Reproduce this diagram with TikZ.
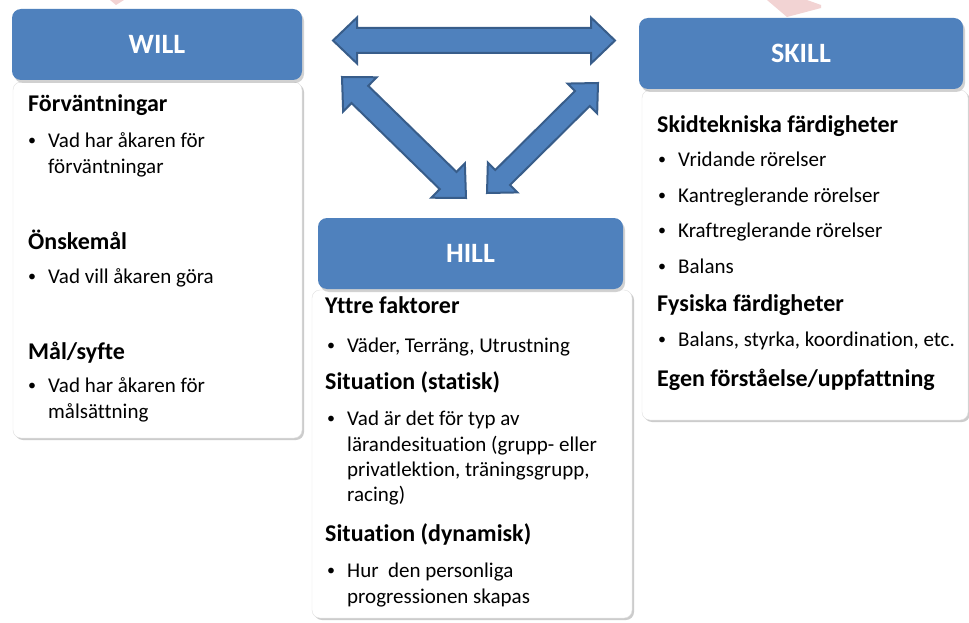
\documentclass[tikz,border=0pt]{standalone}
\usepackage{fontspec}
\setmainfont{Carlito}[RawFeature=-liga]
\usetikzlibrary{calc,shadows}
\definecolor{hblue}{HTML}{4F81BD}
\definecolor{hborder}{HTML}{385D8A}
\definecolor{wmark}{HTML}{F2D3D3}
\tikzset{
 header/.style={fill=hblue, rounded corners=9pt, text=white, font=\bfseries\fontsize{28}{30}\selectfont,
   drop shadow={shadow xshift=2pt, shadow yshift=-3pt, opacity=0.35}, inner sep=0},
 panel/.style={fill=white, draw=black!12, rounded corners=8pt,
   drop shadow={shadow xshift=2pt, shadow yshift=-2pt, opacity=0.4}, inner sep=0},
 hdtext/.style={anchor=base west, inner sep=0, font=\bfseries\fontsize{24}{28}\selectfont},
 bodytext/.style={anchor=base west, inner sep=0, font=\fontsize{21}{25}\selectfont},
 bullettext/.style={anchor=center, inner sep=0, font=\fontsize{16}{17}\selectfont},
 bigarrow/.style={fill=hblue, draw=hborder, line width=2pt, line join=miter},
}
% heading line: name, x, y(center)
\newcommand\hdl[4]{\node[hdtext] (#1) at (#2,{#3+8}) {#4};}
% bullet line: name, x(bullet), y, text
\newcommand\bul[4]{\node[bullettext] (#1-b) at ({#2+3},{#3+2}) {•};\node[bodytext] (#1) at ({#2+19},{#3+7}) {#4};}
% continuation line: name, x(bullet), y, text
\newcommand\cnt[4]{\node[bodytext] (#1) at ({#2+19},{#3+7}) {#4};}
% double block arrow: A, B, shaft half, head half, head length
\newcommand\dblarrow[5]{%
 \coordinate (#1-p) at ($(#1)!#5!(#2)$);
 \coordinate (#1-q) at ($(#2)!#5!(#1)$);
 \draw[bigarrow] (#1) -- ($(#1-p)!#4!90:(#2)$) -- ($(#1-p)!#3!90:(#2)$)
   -- ($(#1-q)!#3!-90:(#1)$) -- ($(#1-q)!#4!-90:(#1)$) -- (#2)
   -- ($(#1-q)!#4!90:(#1)$) -- ($(#1-q)!#3!90:(#1)$)
   -- ($(#1-p)!#3!-90:(#2)$) -- ($(#1-p)!#4!-90:(#2)$) -- cycle;}
\begin{document}
\begin{tikzpicture}[x=1pt,y=-1pt]
\useasboundingbox (0,0) rectangle (969,623);
\fill[white] (0,0) rectangle (969,623);
% faint watermark marks
\fill[wmark] (767,0) -- (807,0) -- (821,5) -- (821,8) -- (787,17) -- cycle;
\fill[wmark] (110,0) -- (124,0) -- (116,5) -- cycle;
% panels
\node[panel, minimum width=289pt, minimum height=356pt] (willbody) at (157.5,260) {};
\node[panel, minimum width=326pt, minimum height=330pt] (skillbody) at (805,255) {};
\node[panel, minimum width=320pt, minimum height=328pt] (hillbody) at (472,454) {};
% headers
\node[header, minimum width=290pt, minimum height=71pt] (will) at (157,44.5) {WILL};
\node[header, minimum width=324pt, minimum height=71pt] (skill) at (801,53.5) {SKILL};
\node[header, minimum width=305pt, minimum height=71pt] (hill) at (470.5,253.5) {HILL};
% arrows
\coordinate (aw) at (333,40.5);
\coordinate (as) at (615,40.5);
\coordinate (bw) at (342,77);
\coordinate (bh) at (466,198);
\coordinate (cs) at (598,83);
\coordinate (ch) at (487,193);
\dblarrow{aw}{as}{12.5pt}{23pt}{24pt}
\dblarrow{bw}{bh}{12pt}{24pt}{25pt}
\dblarrow{cs}{ch}{10.5pt}{21pt}{22pt}
% WILL text
\hdl{w1}{28}{104}{Förväntningar}
\bul{w2}{29}{140}{Vad har åkaren för}
\cnt{w3}{29}{166}{förväntningar}
\hdl{w4}{28}{241}{Önskemål}
\bul{w5}{29}{276}{Vad vill åkaren göra}
\hdl{w6}{28}{351}{Mål/syfte}
\bul{w7}{29}{385}{Vad har åkaren för}
\cnt{w8}{29}{411}{målsättning}
% HILL text
\hdl{h1}{325}{305}{Yttre faktorer}
\bul{h2}{328}{345}{Väder, Terräng, Utrustning}
\hdl{h3}{325}{381}{Situation (statisk)}
\bul{h4}{328}{418}{Vad är det för typ av}
\cnt{h5}{328}{444}{lärandesituation (grupp- eller}
\cnt{h6}{328}{469}{privatlektion, träningsgrupp,}
\cnt{h7}{328}{494}{racing)}
\hdl{h8}{325}{533}{Situation (dynamisk)}
\bul{h9}{328}{570}{Hur\ \ den personliga}
\cnt{h10}{328}{596}{progressionen skapas}
% SKILL text
\hdl{s1}{657}{125}{Skidtekniska färdigheter}
\bul{s2}{659}{159}{Vridande rörelser}
\bul{s3}{659}{195}{Kantreglerande rörelser}
\bul{s4}{659}{230}{Kraftreglerande rörelser}
\bul{s5}{659}{266}{Balans}
\hdl{s6}{657}{303}{Fysiska färdigheter}
\bul{s7}{659}{339}{Balans, styrka, koordination, etc.}
\hdl{s8}{657}{378}{Egen förståelse/uppfattning}
\end{tikzpicture}
\end{document}
